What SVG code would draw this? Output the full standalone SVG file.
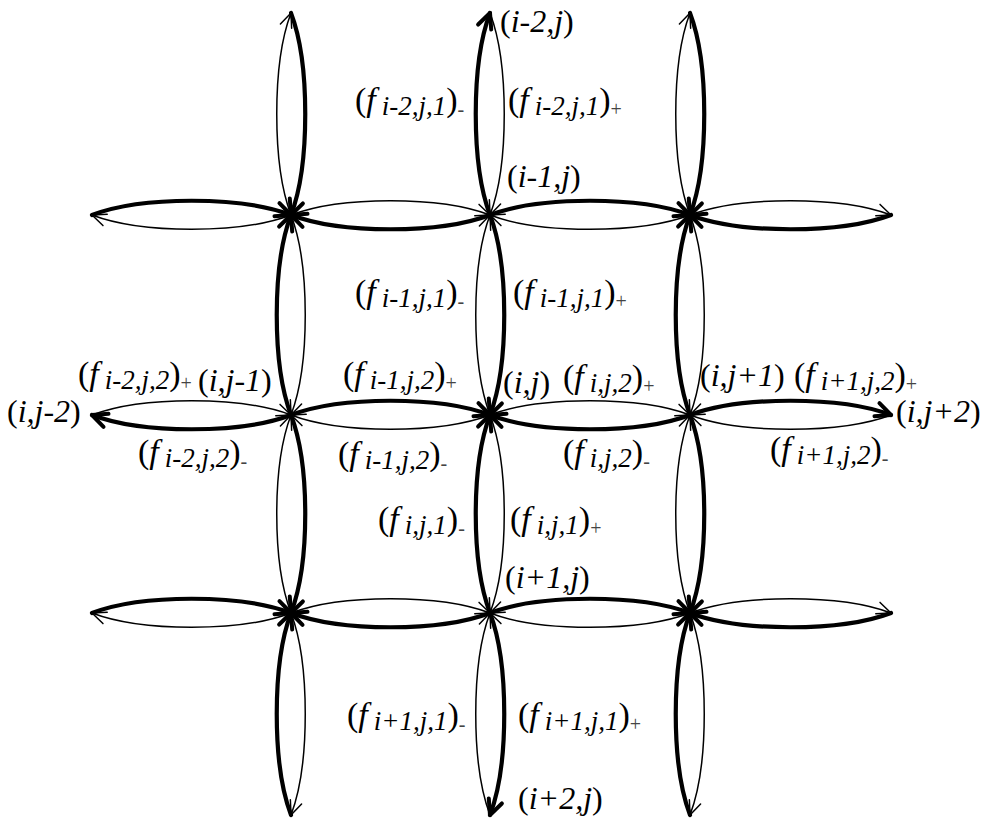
<svg xmlns="http://www.w3.org/2000/svg" width="990" height="821" viewBox="0 0 990 821">
<style>
  .arc { fill: none; stroke: #000; stroke-linecap: round; }
  .thick { stroke-width: 4.2; marker-end: url(#ahThick); }
  .thin { stroke-width: 1.5; marker-end: url(#ahThin); }
  .nl { font-size: 32px; }
  .flux { font-size: 34px; }
  .it { font-style: italic; }
  .sub { font-size: 27px; font-style: italic; }
  .sg { font-size: 20px; fill: #444; }
</style>
<defs>
  <marker id="ahThick" markerUnits="userSpaceOnUse" orient="auto" refX="0" refY="0" markerWidth="40" markerHeight="40" overflow="visible">
    <path d="M -15 -7 L 0 0 L -15 7" fill="none" stroke="#000" stroke-width="4" stroke-linecap="round" stroke-linejoin="round"/>
  </marker>
  <marker id="ahThin" markerUnits="userSpaceOnUse" orient="auto" refX="0" refY="0" markerWidth="40" markerHeight="40" overflow="visible">
    <path d="M -14 -6 L 0 0 L -14 6" fill="none" stroke="#000" stroke-width="1.5" stroke-linecap="round" stroke-linejoin="round"/>
  </marker>
</defs>
<rect width="990" height="821" fill="#fff"/>
<g id="connectors">
  <path class="arc thick" d="M92 215 C142 196 241 196 291 215"/>
  <path class="arc thin" d="M291 215 C241 234 142 234 92 215"/>
  <path class="arc thin" d="M291 215 C341 196 440 196 490 215"/>
  <path class="arc thick" d="M490 215 C440 234 341 234 291 215"/>
  <path class="arc thick" d="M490 215 C540 196 640 196 690 215"/>
  <path class="arc thin" d="M690 215 C640 234 540 234 490 215"/>
  <path class="arc thin" d="M690 215 C740 196 841 196 891 215"/>
  <path class="arc thick" d="M891 215 C841 234 740 234 690 215"/>
  <path class="arc thin" d="M92 415 C142 396 241 396 291 415"/>
  <path class="arc thick" d="M291 415 C241 434 142 434 92 415"/>
  <path class="arc thick" d="M291 415 C341 396 440 396 490 415"/>
  <path class="arc thin" d="M490 415 C440 434 341 434 291 415"/>
  <path class="arc thin" d="M490 415 C540 396 640 396 690 415"/>
  <path class="arc thick" d="M690 415 C640 434 540 434 490 415"/>
  <path class="arc thick" d="M690 415 C740 396 841 396 891 415"/>
  <path class="arc thin" d="M891 415 C841 434 740 434 690 415"/>
  <path class="arc thick" d="M92 613 C142 594 241 594 291 613"/>
  <path class="arc thin" d="M291 613 C241 632 142 632 92 613"/>
  <path class="arc thin" d="M291 613 C341 594 440 594 490 613"/>
  <path class="arc thick" d="M490 613 C440 632 341 632 291 613"/>
  <path class="arc thick" d="M490 613 C540 594 640 594 690 613"/>
  <path class="arc thin" d="M690 613 C640 632 540 632 490 613"/>
  <path class="arc thin" d="M690 613 C740 594 841 594 891 613"/>
  <path class="arc thick" d="M891 613 C841 632 740 632 690 613"/>
  <path class="arc thick" d="M291 13 C310 63 310 165 291 215"/>
  <path class="arc thin" d="M291 215 C272 165 272 63 291 13"/>
  <path class="arc thin" d="M291 215 C310 265 310 365 291 415"/>
  <path class="arc thick" d="M291 415 C272 365 272 265 291 215"/>
  <path class="arc thick" d="M291 415 C310 465 310 563 291 613"/>
  <path class="arc thin" d="M291 613 C272 563 272 465 291 415"/>
  <path class="arc thin" d="M291 613 C310 663 310 765 291 815"/>
  <path class="arc thick" d="M291 815 C272 765 272 663 291 613"/>
  <path class="arc thin" d="M490 13 C509 63 509 165 490 215"/>
  <path class="arc thick" d="M490 215 C471 165 471 63 490 13"/>
  <path class="arc thick" d="M490 215 C509 265 509 365 490 415"/>
  <path class="arc thin" d="M490 415 C471 365 471 265 490 215"/>
  <path class="arc thin" d="M490 415 C509 465 509 563 490 613"/>
  <path class="arc thick" d="M490 613 C471 563 471 465 490 415"/>
  <path class="arc thick" d="M490 613 C509 663 509 765 490 815"/>
  <path class="arc thin" d="M490 815 C471 765 471 663 490 613"/>
  <path class="arc thick" d="M690 13 C709 63 709 165 690 215"/>
  <path class="arc thin" d="M690 215 C671 165 671 63 690 13"/>
  <path class="arc thin" d="M690 215 C709 265 709 365 690 415"/>
  <path class="arc thick" d="M690 415 C671 365 671 265 690 215"/>
  <path class="arc thick" d="M690 415 C709 465 709 563 690 613"/>
  <path class="arc thin" d="M690 613 C671 563 671 465 690 415"/>
  <path class="arc thin" d="M690 613 C709 663 709 765 690 815"/>
  <path class="arc thick" d="M690 815 C671 765 671 663 690 613"/>
</g>
<g style="font-family:'Liberation Serif',serif" fill="#000">
<g id="node-i-2-j"><text class="nl" x="500" y="32">(<tspan class="it">i-2,j</tspan>)</text></g>
<g id="node-i-1-j"><text class="nl" x="507" y="187">(<tspan class="it">i-1,j</tspan>)</text></g>
<g id="node-i-j"><text class="nl" x="503" y="393">(<tspan class="it">i,j</tspan>)</text></g>
<g id="node-i-j-1"><text class="nl" x="198" y="391">(<tspan class="it">i,j-1</tspan>)</text></g>
<g id="node-i-j-2"><text class="nl" x="7" y="422">(<tspan class="it">i,j-2</tspan>)</text></g>
<g id="node-i-j+1"><text class="nl" x="700" y="386">(<tspan class="it">i,j+1</tspan>)</text></g>
<g id="node-i-j+2"><text class="nl" x="896" y="422">(<tspan class="it">i,j+2</tspan>)</text></g>
<g id="node-i+1-j"><text class="nl" x="505" y="588">(<tspan class="it">i+1,j</tspan>)</text></g>
<g id="node-i+2-j"><text class="nl" x="518" y="809">(<tspan class="it">i+2,j</tspan>)</text></g>
<g id="flux-labels">
  <text class="flux" x="355" y="111">(<tspan class="it">f</tspan><tspan class="sub" dx="6" dy="4">i-2,j,1</tspan><tspan dy="-4">)</tspan><tspan class="sg" dy="5">-</tspan></text>
  <text class="flux" x="508" y="111">(<tspan class="it">f</tspan><tspan class="sub" dx="6" dy="4">i-2,j,1</tspan><tspan dy="-4">)</tspan><tspan class="sg" dy="5">+</tspan></text>
  <text class="flux" x="355" y="303">(<tspan class="it">f</tspan><tspan class="sub" dx="6" dy="4">i-1,j,1</tspan><tspan dy="-4">)</tspan><tspan class="sg" dy="5">-</tspan></text>
  <text class="flux" x="513" y="303">(<tspan class="it">f</tspan><tspan class="sub" dx="6" dy="4">i-1,j,1</tspan><tspan dy="-4">)</tspan><tspan class="sg" dy="5">+</tspan></text>
  <text class="flux" x="78" y="385">(<tspan class="it">f</tspan><tspan class="sub" dx="6" dy="4">i-2,j,2</tspan><tspan dy="-4">)</tspan><tspan class="sg" dy="5">+</tspan></text>
  <text class="flux" x="343" y="385">(<tspan class="it">f</tspan><tspan class="sub" dx="6" dy="4">i-1,j,2</tspan><tspan dy="-4">)</tspan><tspan class="sg" dy="5">+</tspan></text>
  <text class="flux" x="563" y="388">(<tspan class="it">f</tspan><tspan class="sub" dx="6" dy="4">i,j,2</tspan><tspan dy="-4">)</tspan><tspan class="sg" dy="5">+</tspan></text>
  <text class="flux" x="794" y="386">(<tspan class="it">f</tspan><tspan class="sub" dx="6" dy="4">i+1,j,2</tspan><tspan dy="-4">)</tspan><tspan class="sg" dy="5">+</tspan></text>
  <text class="flux" x="138" y="463">(<tspan class="it">f</tspan><tspan class="sub" dx="6" dy="4">i-2,j,2</tspan><tspan dy="-4">)</tspan><tspan class="sg" dy="5">-</tspan></text>
  <text class="flux" x="338" y="465">(<tspan class="it">f</tspan><tspan class="sub" dx="6" dy="4">i-1,j,2</tspan><tspan dy="-4">)</tspan><tspan class="sg" dy="5">-</tspan></text>
  <text class="flux" x="563" y="463">(<tspan class="it">f</tspan><tspan class="sub" dx="6" dy="4">i,j,2</tspan><tspan dy="-4">)</tspan><tspan class="sg" dy="5">-</tspan></text>
  <text class="flux" x="770" y="460">(<tspan class="it">f</tspan><tspan class="sub" dx="6" dy="4">i+1,j,2</tspan><tspan dy="-4">)</tspan><tspan class="sg" dy="5">-</tspan></text>
  <text class="flux" x="378" y="530">(<tspan class="it">f</tspan><tspan class="sub" dx="6" dy="4">i,j,1</tspan><tspan dy="-4">)</tspan><tspan class="sg" dy="5">-</tspan></text>
  <text class="flux" x="510" y="530">(<tspan class="it">f</tspan><tspan class="sub" dx="6" dy="4">i,j,1</tspan><tspan dy="-4">)</tspan><tspan class="sg" dy="5">+</tspan></text>
  <text class="flux" x="347" y="726">(<tspan class="it">f</tspan><tspan class="sub" dx="6" dy="4">i+1,j,1</tspan><tspan dy="-4">)</tspan><tspan class="sg" dy="5">-</tspan></text>
  <text class="flux" x="518" y="726">(<tspan class="it">f</tspan><tspan class="sub" dx="6" dy="4">i+1,j,1</tspan><tspan dy="-4">)</tspan><tspan class="sg" dy="5">+</tspan></text>
</g>
</g>
</svg>
